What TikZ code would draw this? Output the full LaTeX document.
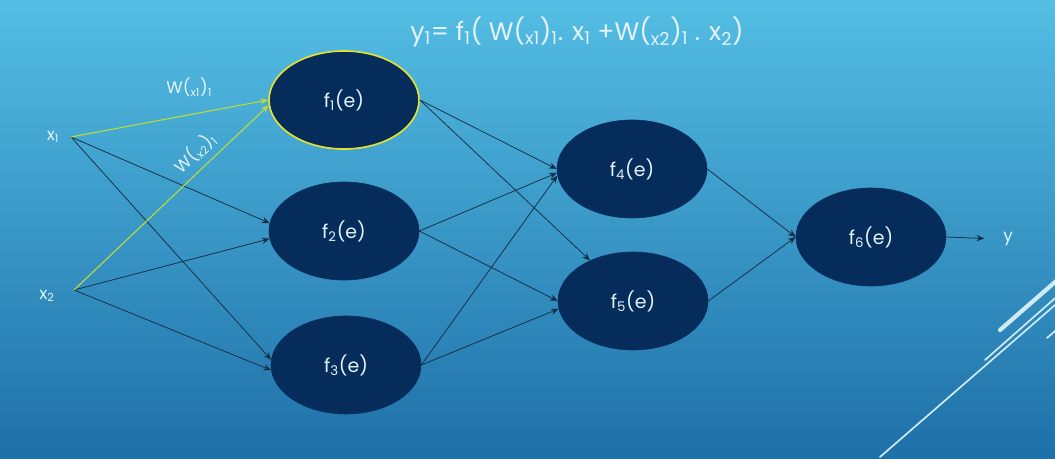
\documentclass[tikz,border=0pt]{standalone}
\usepackage{fontspec}
\setsansfont{Poppins}
\usepackage{tikz}
\usetikzlibrary{arrows.meta,positioning,shapes.geometric}
\usepackage{xcolor}

\definecolor{navy}{RGB}{6,44,92}
\definecolor{wirec}{RGB}{22,46,70}
\definecolor{lime}{RGB}{184,218,60}
\definecolor{ringy}{RGB}{226,224,48}
\definecolor{skytop}{RGB}{84,190,228}
\definecolor{skybot}{RGB}{30,112,168}
\definecolor{pale}{RGB}{228,243,250}

\begin{document}
\begin{tikzpicture}[
    x=0.025cm, y=0.025cm,
    neuron/.style={ellipse, draw=navy, fill=navy, minimum width=3.75cm, minimum height=2.45cm, inner sep=0pt, font=\sffamily\fontsize{13.5}{15}\selectfont, text=pale},
    wire/.style={draw=wirec, line width=0.55pt, -{Stealth[length=5.5pt,width=4.5pt]}},
    wgt/.style={draw=lime, line width=0.8pt, -{Stealth[length=5.5pt,width=4.5pt]}},
    label/.style={font=\sffamily\fontsize{12}{14}\selectfont, text=pale},
    deco/.style={draw=pale!85!skytop, line cap=round},
  ]
  % Background
  \useasboundingbox (0,0) rectangle (1055,459);
  \shade[top color=skytop, bottom color=skybot] (0,0) rectangle (1055,459);
  \begin{scope}
    \clip (0,0) rectangle (1055,459);
    \draw[deco, line width=1.2pt] (880,2) -- (1070,167);
    \draw[deco, line width=1.2pt] (985,99) -- (1070,174);
    \draw[deco, line width=3pt] (1000,129) -- (1070,190);
    \draw[deco, line width=1.2pt] (1047,121) -- (1070,141);
  \end{scope}

  % Formula
  \node[label, font=\sffamily\fontsize{18}{20}\selectfont] (eq) at (577,427)
    {y\textsubscript{1}= f\textsubscript{1}( W(\textsubscript{x1})\textsubscript{1}. x\textsubscript{1} +W(\textsubscript{x2})\textsubscript{1} . x\textsubscript{2})};

  % Inputs
  \node[label] (x1) at (53,322) {x\textsubscript{1}};
  \node[label] (x2) at (47,163) {x\textsubscript{2}};
  \coordinate (x1o) at (71,322);
  \coordinate (x2o) at (74,169);

  % Neurons
  \node[neuron, draw=ringy, line width=1.2pt] (f1) at (344,359) {f\textsubscript{1}(e)};
  \node[neuron] (f2) at (344,228) {f\textsubscript{2}(e)};
  \node[neuron] (f3) at (346,94) {f\textsubscript{3}(e)};
  \node[neuron] (f4) at (632,290) {f\textsubscript{4}(e)};
  \node[neuron] (f5) at (633,158) {f\textsubscript{5}(e)};
  \node[neuron] (f6) at (871,222) {f\textsubscript{6}(e)};
  \node[label] (y) at (1008,220) {y};

  % Input connections
  \draw[wire] (x1o) -- (f2.174);
  \draw[wire] (x1o) -- (f3.176);
  \draw[wire] (x2o) -- (f2.186);
  \draw[wire] (x2o) -- (f3.184);
  \draw[wgt] (x1o) -- node[pos=0.6, above=9pt, label] {W(\textsubscript{x1})\textsubscript{1}} (f1.west);
  \draw[wgt] (x2o) -- node[pos=0.68, above=1pt, sloped, label] {W(\textsubscript{x2})\textsubscript{1}} (f1.184);

  % Hidden connections
  \draw[wire] (f1.east) -- (f4.west);
  \draw[wire] (f1.east) -- (f5);
  \draw[wire] (f2.east) -- (f4.183);
  \draw[wire] (f2.east) -- (f5.west);
  \draw[wire] (f3.east) -- (f4.185);
  \draw[wire] (f3.east) -- (f5.186);
  \draw[wire] (f4.east) -- (f6.west);
  \draw[wire] (f5.east) -- (f6.west);
  \draw[wire, shorten >=10pt] (f6.east) -- (y.west);
\end{tikzpicture}
\end{document}
